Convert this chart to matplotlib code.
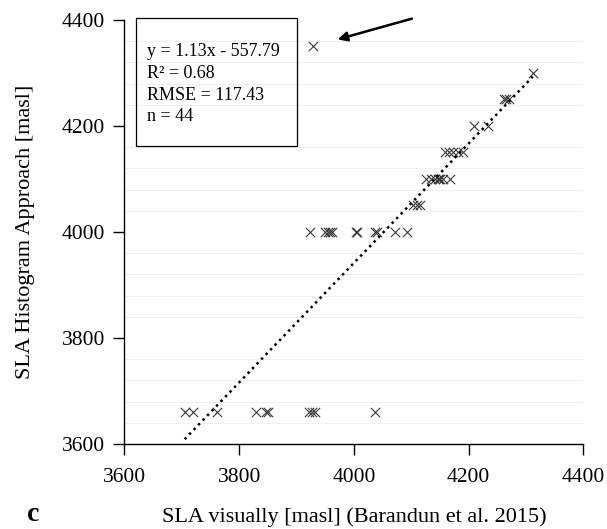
import numpy as np
import matplotlib
matplotlib.use("Agg")
import matplotlib.pyplot as plt
from matplotlib.patches import Rectangle
from matplotlib.ticker import MultipleLocator

plt.rcParams['font.family'] = ['Liberation Serif', 'DejaVu Serif']

# SLA visually (Barandun et al. 2015) vs SLA histogram approach
sla_visual = [3705, 3720, 3762, 3830, 3846, 3850, 3922, 3927, 3932, 4037,
              3923, 3950, 3955, 3958, 3962, 4003, 4005, 4037, 4040, 4072, 4092,
              4103, 4110, 4115,
              4125, 4135, 4142, 4146, 4148, 4150, 4155, 4168,
              4158, 4165, 4172, 4181, 4190,
              4210, 4233,
              4262, 4266, 4270,
              4312,
              3929]
sla_hist = [3660] * 10 + [4000] * 11 + [4050] * 3 + [4100] * 8 + [4150] * 5 \
    + [4200] * 2 + [4250] * 3 + [4300] + [4350]

stats_lines = ["y = 1.13x - 557.79", "R² = 0.68", "RMSE = 117.43", "n = 44"]

fig = plt.figure(figsize=(6.07, 5.29), dpi=100)
ax = fig.add_axes([0.205, 0.1607, 0.756, 0.8015])

ax.set_xlim(3600, 4400)
ax.set_ylim(3600, 4400)
ax.xaxis.set_major_locator(MultipleLocator(200))
ax.yaxis.set_major_locator(MultipleLocator(200))
ax.yaxis.set_minor_locator(MultipleLocator(40))
ax.grid(which='minor', axis='y', color='#f0f0f0', lw=0.8, zorder=0)
ax.set_axisbelow(True)

ax.scatter(sla_visual, sla_hist, marker='x', s=45, color='#3a3a3a',
           linewidths=0.8, zorder=3)

# linear trendline over the data range
fit = np.polyfit(sla_visual, sla_hist, 1)
xs = np.array([min(sla_visual), max(sla_visual)])
ax.plot(xs, np.polyval(fit, xs), color='black', ls=(0, (1, 1.6)), lw=1.8,
        zorder=4)

for side in ['top', 'right']:
    ax.spines[side].set_visible(False)
for side in ['left', 'bottom']:
    ax.spines[side].set_linewidth(1.0)
ax.tick_params(which='major', direction='out', length=8, width=1,
               labelsize=15.5)
ax.tick_params(axis='x', pad=9)
ax.tick_params(axis='y', pad=6)
ax.tick_params(which='minor', length=0)

ax.set_xlabel("SLA visually [masl] (Barandun et al. 2015)", fontsize=16,
              labelpad=15)
ax.set_ylabel("SLA Histogram Approach [masl]", fontsize=16, labelpad=19)

# statistics box
ax.add_patch(Rectangle((0.026, 0.703), 0.35, 0.302, transform=ax.transAxes,
                       fill=False, ec='black', lw=0.9, clip_on=False, zorder=5))
for i, line in enumerate(stats_lines):
    ax.text(0.05, 0.925 - i * 0.051, line, transform=ax.transAxes,
            fontsize=13, va='center', ha='left', zorder=6)

ax.annotate("", xy=(3967, 4362), xytext=(4106, 4404), xycoords='data',
            arrowprops=dict(arrowstyle='-|>', color='black', lw=1.8,
                            mutation_scale=14), annotation_clip=False)

fig.text(0.055, 0.028, "c", fontsize=20, fontweight='bold', ha='center',
         va='center')

fig.savefig("out.png", dpi=100)
